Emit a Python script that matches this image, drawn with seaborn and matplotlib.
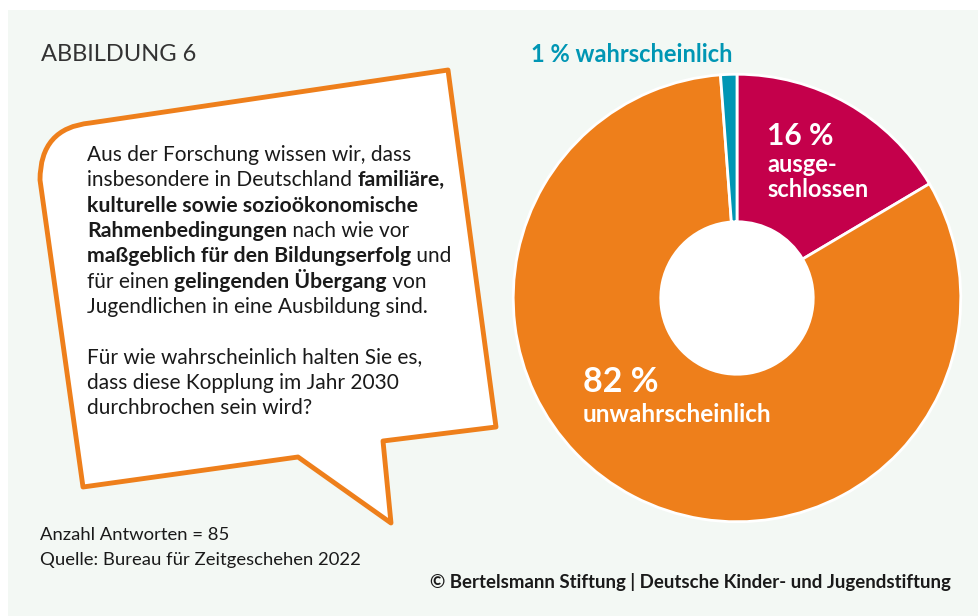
import matplotlib
matplotlib.use("Agg")
import matplotlib.pyplot as plt
import seaborn as sns
from matplotlib.path import Path
from matplotlib.patches import PathPatch, Rectangle, Circle

# data
categories = ["ausgeschlossen", "unwahrscheinlich", "wahrscheinlich"]
counts = [14, 70, 1]  # Anzahl Antworten = 85
pct_labels = ["16 %", "82 %", "1 %"]
slice_colors = ["#c4004b", "#ee7f1b", "#0096b4"]

title = "ABBILDUNG 6"
body_lines = [
    [("Aus der Forschung wissen wir, dass", False)],
    [("insbesondere in Deutschland ", False), ("familiäre,", True)],
    [("kulturelle sowie sozioökonomische", True)],
    [("Rahmenbedingungen", True), (" nach wie vor", False)],
    [("maßgeblich für den Bildungserfolg", True), (" und", False)],
    [("für einen ", False), ("gelingenden Übergang", True), (" von", False)],
    [("Jugendlichen in eine Ausbildung sind.", False)],
    [],
    [("Für wie wahrscheinlich halten Sie es,", False)],
    [("dass diese Kopplung im Jahr 2030", False)],
    [("durchbrochen sein wird?", False)],
]
footer_n = "Anzahl Antworten = 85"
footer_src = "Quelle: Bureau für Zeitgeschehen 2022"
copyright_txt = "© Bertelsmann Stiftung | Deutsche Kinder- und Jugendstiftung"

sns.set_theme(style="white")
plt.rcParams["font.family"] = ["Lato", "DejaVu Sans"]

W, H = 979, 616
fig = plt.figure(figsize=(W / 100, H / 100), dpi=100)
fig.patch.set_facecolor("white")

# background axes in pixel coordinates
bg = fig.add_axes([0, 0, 1, 1])
bg.set_xlim(0, W)
bg.set_ylim(H, 0)
bg.axis("off")
bg.add_patch(Rectangle((8, 10), 970, 606, facecolor="#f3f8f4", edgecolor="none"))

# speech bubble
orange = "#ee7f1b"
verts = [
    (448, 70), (90, 123), (40, 128), (40, 180), (83, 487), (298, 457),
    (391, 523), (383, 441), (496, 427), (448, 70),
]
codes = [Path.MOVETO, Path.LINETO, Path.CURVE3, Path.CURVE3, Path.LINETO,
         Path.LINETO, Path.LINETO, Path.LINETO, Path.LINETO, Path.CLOSEPOLY]
bg.add_patch(PathPatch(Path(verts, codes), facecolor="white", edgecolor=orange,
                       linewidth=3.5, joinstyle="round"))

dark = "#333333"
bg.text(41, 61, title, fontsize=17, fontweight="normal", color=dark, va="baseline")

renderer = fig.canvas.get_renderer()
y = 161
for line in body_lines:
    x = 87
    for txt, bold in line:
        t = bg.text(x, y, txt, fontsize=15.3 if bold else 15, color="#1a1a1a",
                    va="baseline", fontweight="bold" if bold else "normal")
        x += t.get_window_extent(renderer).width
    y += 25.3

bg.text(40, 540, footer_n, fontsize=13.3, color="#1a1a1a", va="baseline")
bg.text(40, 565, footer_src, fontsize=13.3, color="#1a1a1a", va="baseline")
bg.text(951, 588, copyright_txt, fontsize=13.4, color="#1a1a1a", va="baseline",
        ha="right", fontweight="bold")

# donut
cx, cy, r, r_in = 737, 298, 226, 77
pie_ax = fig.add_axes([(cx - r) / W, (H - cy - r) / H, 2 * r / W, 2 * r / H])
pie_ax.pie(counts, colors=slice_colors, startangle=90, counterclock=False,
           wedgeprops=dict(width=(r - r_in) / r, edgecolor="white", linewidth=2))
pie_ax.add_patch(Circle((0, 0), r_in / r, facecolor="white", edgecolor="none"))
pie_ax.set_xlim(-1.01, 1.01)
pie_ax.set_ylim(-1.01, 1.01)
pie_ax.axis("off")

px = bg.transData
lab = dict(fontweight="bold", va="baseline", transform=px, clip_on=False)
pie_ax.text(531, 62, f"{pct_labels[2]} {categories[2]}", fontsize=17,
            color=slice_colors[2], **lab)
pie_ax.text(767, 145, pct_labels[0], fontsize=21.5, color="white", **lab)
pie_ax.text(767, 172, "ausge-", fontsize=17, color="white", **lab)
pie_ax.text(767, 197, "schlossen", fontsize=17, color="white", **lab)
pie_ax.text(583, 392, pct_labels[1], fontsize=24.5, color="white", **lab)
pie_ax.text(583, 422, categories[1], fontsize=17.5, color="white", **lab)

fig.savefig("out.png", dpi=100, facecolor=fig.get_facecolor())
